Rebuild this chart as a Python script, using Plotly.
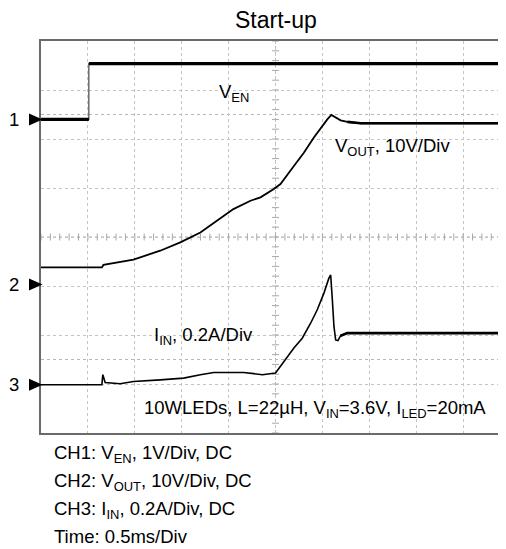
import numpy as np
import plotly.graph_objects as go

# ---------------- data ----------------
# time axis: 0.5 ms/div, 8 vertical divisions
T_PER_DIV = 0.5
X_MAX = 4.957            # ms visible at right edge (frame continues past it)

# channel offsets (divisions from bottom) and scales
CH_OFFSET = {"1": 6.4, "2": 3.03, "3": 0.985}
EN_SCALE = 1.0           # V/div
OUT_SCALE = 10.0         # V/div
IN_SCALE = 0.2           # A/div

# CH1: V_EN (V)
t_en = [0.0, 0.51, 0.51, 4.957]
v_en = [0.0, 0.0, 1.14, 1.14]

# CH2: V_OUT (V)
t_out = [0.0, 0.649, 0.666, 0.986, 1.271, 1.485, 1.699, 2.051, 2.233, 2.340,
         2.482, 2.553, 2.696, 2.802, 2.909, 2.999, 3.052, 3.095, 3.141, 3.194,
         3.266, 3.408, 4.957]
v_out = [3.5, 3.5, 4.0, 5.1, 6.9, 8.6, 10.6, 15.4, 17.1, 17.8,
         19.5, 20.5, 24.2, 26.9, 30.0, 32.4, 33.7, 34.6, 34.1, 33.5,
         33.2, 32.9, 32.9]

# CH3: I_IN (A)
t_in = [0.0, 0.649, 0.659, 0.684, 0.844, 0.986, 1.271, 1.520, 1.699, 1.841,
        2.161, 2.361, 2.500, 2.553, 2.625, 2.696, 2.785, 2.874, 2.945, 3.016,
        3.069, 3.088, 3.106, 3.123, 3.141, 3.166, 3.194, 3.266, 4.957]
i_in = [0.0, 0.0, 0.041, 0.009, 0.004, 0.013, 0.020, 0.027, 0.041, 0.050,
        0.050, 0.041, 0.048, 0.075, 0.115, 0.150, 0.190, 0.251, 0.306, 0.374,
        0.435, 0.448, 0.346, 0.238, 0.183, 0.180, 0.200, 0.211, 0.211]

title_text = "Start-up"
notes = ["CH1: V<sub>EN</sub>, 1V/Div, DC",
         "CH2: V<sub>OUT</sub>, 10V/Div, DC",
         "CH3: I<sub>IN</sub>, 0.2A/Div, DC",
         "Time: 0.5ms/Div"]

FONT = "Liberation Sans, Arial, sans-serif"

# page body has an 8px margin: figure is sized to fill the rest of the window
FIG_W, FIG_H = 498, 541
PLOT_L, PLOT_B = 41, 433       # plot-area left / bottom in window pixels
PLOT_W, PLOT_H = 465, 392

# ---------------- helpers ----------------
def to_div(vals, off, scale):
    return [off + v / scale for v in vals]

def px_x(px):   # window pixel -> paper x
    return (px - PLOT_L) / PLOT_W

def px_y(py):   # window pixel -> paper y
    return (PLOT_B - py) / PLOT_H

y_en = to_div(v_en, CH_OFFSET["1"], EN_SCALE)
y_out = to_div(v_out, CH_OFFSET["2"], OUT_SCALE)
y_in = to_div(i_in, CH_OFFSET["3"], IN_SCALE)

fig = go.Figure()

# center-axis minor ticks (graticule decoration)
tick_x = np.arange(0, X_MAX, T_PER_DIV / 5)
tick_y = np.arange(0, 8.01, 0.2)
fig.add_trace(go.Scatter(x=tick_x, y=[4] * len(tick_x), mode="markers",
                         marker=dict(symbol="line-ns", size=5,
                                     line=dict(width=1, color="#a8a8a8")),
                         hoverinfo="skip", showlegend=False))
fig.add_trace(go.Scatter(x=[5 * T_PER_DIV] * len(tick_y), y=tick_y, mode="markers",
                         marker=dict(symbol="line-ew", size=5,
                                     line=dict(width=1, color="#a8a8a8")),
                         hoverinfo="skip", showlegend=False))

# CH1 step (thin) and levels (thick)
fig.add_trace(go.Scatter(x=t_en, y=y_en, mode="lines",
                         line=dict(color="#444444", width=1.2),
                         hoverinfo="skip", showlegend=False))
fig.add_trace(go.Scatter(x=t_en[:2] + [None] + t_en[2:], y=y_en[:2] + [None] + y_en[2:],
                         mode="lines", line=dict(color="black", width=3.2),
                         hoverinfo="skip", showlegend=False))

# CH2
fig.add_trace(go.Scatter(x=t_out, y=y_out, mode="lines",
                         line=dict(color="black", width=1.8),
                         hoverinfo="skip", showlegend=False))
fig.add_trace(go.Scatter(x=t_out[-3:], y=y_out[-3:], mode="lines",
                         line=dict(color="black", width=2.6),
                         hoverinfo="skip", showlegend=False))

# CH3
fig.add_trace(go.Scatter(x=t_in, y=y_in, mode="lines",
                         line=dict(color="black", width=1.6),
                         hoverinfo="skip", showlegend=False))
fig.add_trace(go.Scatter(x=t_in[-3:], y=y_in[-3:], mode="lines",
                         line=dict(color="black", width=2.8),
                         hoverinfo="skip", showlegend=False))

shapes = []
# center cross lines and mid-division dotted lines
shapes.append(dict(type="line", xref="x", yref="y", x0=0, x1=X_MAX, y0=4, y1=4,
                   line=dict(color="#b0b0b0", width=1, dash="dot"), layer="below"))
shapes.append(dict(type="line", xref="x", yref="y", x0=2.5, x1=2.5, y0=0, y1=8,
                   line=dict(color="#b0b0b0", width=1, dash="dot"), layer="below"))
for yy in (6.5, 1.5):
    shapes.append(dict(type="line", xref="x", yref="y", x0=0, x1=X_MAX, y0=yy, y1=yy,
                       line=dict(color="#b8b8b8", width=1, dash="dot"), layer="below"))

# white label backgrounds that hide the graticule
boxes = [(1.535, 2.505, 6.56, 7.27),
         (2.953, 4.499, 5.41, 6.19),
         (0.970, 2.441, 1.64, 2.19),
         (0.89, 4.85, 0.11, 0.76)]
for x0, x1, y0, y1 in boxes:
    shapes.append(dict(type="rect", xref="x", yref="y", x0=x0, x1=x1, y0=y0, y1=y1,
                       fillcolor="white", line=dict(width=0), layer="below"))

# channel markers (triangles)
for k, off in CH_OFFSET.items():
    shapes.append(dict(type="path", xref="paper", yref="y",
                       xsizemode="pixel", ysizemode="pixel",
                       xanchor=0, yanchor=off,
                       path="M -12,-6 L 1.5,0 L -12,6 Z",
                       fillcolor="black", line=dict(width=0)))

annotations = []
annotations.append(dict(text=title_text, xref="paper", yref="paper",
                        x=px_x(276), y=px_y(20),
                        xanchor="center", yanchor="middle", showarrow=False,
                        font=dict(size=23, color="black", family=FONT)))

labels = [("V<sub>EN</sub>", 1.873, 6.945),
          ("V<sub>OUT</sub>, 10V/Div", 3.110, 5.84),
          ("I<sub>IN</sub>, 0.2A/Div", 1.180, 1.986),
          ("10WLEDs, L=22µH, V<sub>IN</sub>=3.6V, I<sub>LED</sub>=20mA", 1.074, 0.482)]
for txt, xx, yy in labels:
    annotations.append(dict(text=txt, xref="x", yref="y", x=xx, y=yy,
                            xanchor="left", yanchor="middle", showarrow=False,
                            font=dict(size=18.5, color="black", family=FONT)))

for k, off in CH_OFFSET.items():
    annotations.append(dict(text=k, xref="paper", yref="y", x=px_x(14), y=off,
                            xanchor="center", yanchor="middle", showarrow=False,
                            font=dict(size=18.5, color="black", family=FONT)))

note_y = [453.7, 481.7, 510.3, 536.7]
for txt, py in zip(notes, note_y):
    annotations.append(dict(text=txt, xref="paper", yref="paper",
                            x=px_x(51.7), y=px_y(py),
                            xanchor="left", yanchor="middle", showarrow=False,
                            font=dict(size=18.5, color="black", family=FONT)))

fig.update_layout(
    width=FIG_W, height=FIG_H,
    margin=dict(l=PLOT_L - 8, r=0, t=33, b=FIG_H - (PLOT_B - 8)),
    paper_bgcolor="white", plot_bgcolor="white",
    shapes=shapes, annotations=annotations,
    xaxis=dict(range=[0, X_MAX], dtick=T_PER_DIV, tick0=0, showticklabels=False,
               ticks="", showgrid=True, gridcolor="#c4c4c4", griddash="dot",
               gridwidth=1, zeroline=False, showline=True, mirror=True,
               linecolor="#6a6a6a", linewidth=2, fixedrange=True),
    yaxis=dict(range=[0, 8], dtick=1, tick0=0, showticklabels=False, ticks="",
               showgrid=True, gridcolor="#c4c4c4", griddash="dot", gridwidth=1,
               zeroline=False, showline=True, mirror=False,
               linecolor="#6a6a6a", linewidth=2, fixedrange=True),
)

fig.write_html("out.html")
